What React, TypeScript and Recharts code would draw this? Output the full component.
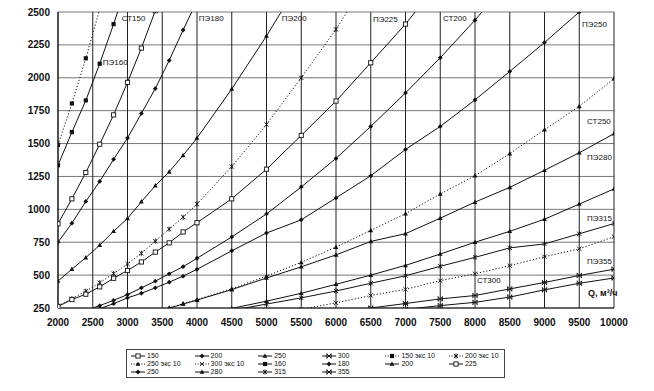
import React from 'react';
import { LineChart, Line, XAxis, YAxis, CartesianGrid, Legend, ReferenceDot } from 'recharts';

// flow points where markers are drawn, m3/h
const Q_POINTS = [2000, 2200, 2400, 2600, 2800, 3000, 3200, 3400, 3600, 3800, 4000, 4500, 5000, 5500, 6000, 6500, 7000, 7500, 8000, 8500, 9000, 9500, 10000];
const X_TICKS = [2000, 2500, 3000, 3500, 4000, 4500, 5000, 5500, 6000, 6500, 7000, 7500, 8000, 8500, 9000, 9500, 10000];
const Y_TICKS = [250, 500, 750, 1000, 1250, 1500, 1750, 2000, 2250, 2500];

// values are listed starting at index `start` of Q_POINTS
const from = (start: number, vals: number[]) =>
  Q_POINTS.map((_, i) => (i >= start && i < start + vals.length ? vals[i - start] : null));

const ST150 = from(0, [890, 1080, 1280, 1495, 1718, 1965, 2226, 2510]);
const ST200 = from(2, [232, 268, 308, 352, 403, 454, 510, 564, 628, 790, 965, 1170, 1387, 1630, 1885, 2152, 2438, 2750]);
const ST250 = from(11, [247, 302, 362, 430, 500, 574, 660, 750, 833, 925, 1040, 1155]);
const ST300 = from(16, [240, 268, 293, 333, 388, 438, 478]);
const ST150_EXC = from(0, [1490, 1805, 2148, 2520]);
const ST200_EXC = from(0, [265, 320, 378, 442, 511, 585, 666, 758, 850, 940, 1040, 1325, 1645, 2000, 2368, 2780]);
const ST250_EXC = from(7, [224, 250, 283, 314, 396, 493, 597, 713, 840, 967, 1117, 1255, 1423, 1605, 1783, 1993]);
const ST300_EXC = from(13, [240, 289, 345, 392, 458, 510, 572, 640, 700, 792]);
const PE160 = from(0, [1335, 1587, 1828, 2107, 2408, 2725]);
const PE180 = from(0, [750, 895, 1060, 1212, 1380, 1542, 1729, 1918, 2132, 2363, 2585]);
const PE200 = from(0, [455, 545, 633, 728, 833, 931, 1058, 1180, 1285, 1410, 1542, 1915, 2318, 2750]);
const PE225 = from(0, [262, 314, 355, 411, 476, 535, 600, 675, 745, 828, 898, 1080, 1305, 1562, 1823, 2114, 2408, 2740]);
const PE250 = from(3, [245, 283, 327, 362, 403, 446, 492, 544, 685, 820, 920, 1087, 1255, 1455, 1630, 1832, 2048, 2268, 2500]);
const PE280 = from(7, [226, 250, 280, 310, 390, 478, 563, 654, 756, 815, 933, 1055, 1167, 1297, 1430, 1575]);
const PE315 = from(11, [232, 280, 327, 379, 438, 495, 567, 635, 707, 737, 814, 892]);
const PE355 = from(15, [250, 284, 319, 345, 395, 444, 497, 545]);

const SERIES = [
  { key: 'st150', name: '150', values: ST150, dashed: false, marker: 'sqOpen' },
  { key: 'st200', name: '200', values: ST200, dashed: false, marker: 'diamond' },
  { key: 'st250', name: '250', values: ST250, dashed: false, marker: 'tri' },
  { key: 'st300', name: '300', values: ST300, dashed: false, marker: 'xbar' },
  { key: 'st150e', name: '150 экс 10', values: ST150_EXC, dashed: true, marker: 'sqFill' },
  { key: 'st200e', name: '200 экс 10', values: ST200_EXC, dashed: true, marker: 'star' },
  { key: 'st250e', name: '250 экс 10', values: ST250_EXC, dashed: true, marker: 'tri' },
  { key: 'st300e', name: '300 экс 10', values: ST300_EXC, dashed: true, marker: 'x' },
  { key: 'pe160', name: '160', values: PE160, dashed: false, marker: 'sqFill' },
  { key: 'pe180', name: '180', values: PE180, dashed: false, marker: 'diamond' },
  { key: 'pe200', name: '200', values: PE200, dashed: false, marker: 'tri' },
  { key: 'pe225', name: '225', values: PE225, dashed: false, marker: 'sqOpen' },
  { key: 'pe250', name: '250', values: PE250, dashed: false, marker: 'diamond' },
  { key: 'pe280', name: '280', values: PE280, dashed: false, marker: 'tri' },
  { key: 'pe315', name: '315', values: PE315, dashed: false, marker: 'star' },
  { key: 'pe355', name: '355', values: PE355, dashed: false, marker: 'xbar' },
];

// curve captions, placed in data units
const CURVE_LABELS = [
  { text: 'СТ150', q: 2917, p: 2452 },
  { text: 'ПЭ160', q: 2644, p: 2118 },
  { text: 'ПЭ180', q: 4026, p: 2456 },
  { text: 'ПЭ200', q: 5221, p: 2456 },
  { text: 'ПЭ225', q: 6531, p: 2448 },
  { text: 'СТ200', q: 7539, p: 2456 },
  { text: 'ПЭ250', q: 9540, p: 2410 },
  { text: 'СТ250', q: 9612, p: 1671 },
  { text: 'ПЭ280', q: 9612, p: 1398 },
  { text: 'ПЭ315', q: 9612, p: 935 },
  { text: 'ПЭ355', q: 9612, p: 609 },
  { text: 'СТ300', q: 8028, p: 465 },
];

const DATA = Q_POINTS.map((q, i) => {
  const row: any = { q };
  SERIES.forEach((s) => { row[s.key] = s.values[i]; });
  return row;
});

const INK = '#111';
const FONT = 'Arial, "Liberation Sans", sans-serif';

const Marker = ({ shape, cx, cy }: { shape: string; cx: number; cy: number }) => {
  const s = 2.1;
  switch (shape) {
    case 'sqOpen':
      return <rect x={cx - s} y={cy - s} width={2 * s} height={2 * s} fill="#fff" stroke={INK} strokeWidth={0.9} />;
    case 'sqFill':
      return <rect x={cx - s} y={cy - s} width={2 * s} height={2 * s} fill={INK} />;
    case 'diamond':
      return <polygon points={`${cx},${cy - 2.4} ${cx + 2.4},${cy} ${cx},${cy + 2.4} ${cx - 2.4},${cy}`} fill={INK} />;
    case 'tri':
      return <polygon points={`${cx},${cy - 2.6} ${cx + 2.4},${cy + 1.8} ${cx - 2.4},${cy + 1.8}`} fill={INK} />;
    case 'x':
      return <path d={`M${cx - s},${cy - s}L${cx + s},${cy + s}M${cx + s},${cy - s}L${cx - s},${cy + s}`} stroke={INK} strokeWidth={0.9} />;
    case 'star':
      return <path d={`M${cx - s},${cy - s}L${cx + s},${cy + s}M${cx + s},${cy - s}L${cx - s},${cy + s}M${cx},${cy - 2.6}L${cx},${cy + 2.6}`} stroke={INK} strokeWidth={0.9} />;
    case 'xbar':
      return <path d={`M${cx - s},${cy - s}L${cx + s},${cy + s}M${cx + s},${cy - s}L${cx - s},${cy + s}M${cx - s},${cy - 2.6}L${cx - s},${cy + 2.6}M${cx + s},${cy - 2.6}L${cx + s},${cy + 2.6}`} stroke={INK} strokeWidth={0.9} />;
    default:
      return null;
  }
};

const LegendBox = () => (
  <div style={{ border: '1px solid #444', background: '#fff', width: 379, height: 29, boxSizing: 'border-box', padding: '2px 0 0 4px', display: 'grid', gridTemplateColumns: 'repeat(6, 63.6px)', gridAutoRows: '8px', fontFamily: FONT, fontSize: 7, color: INK, lineHeight: '8px' }}>
    {SERIES.map((s) => (
      <div key={s.key} style={{ display: 'flex', alignItems: 'center', whiteSpace: 'nowrap' }}>
        <svg width={14} height={8} style={{ marginRight: 2, flex: 'none' }}>
          <line x1={0} x2={14} y1={4} y2={4} stroke={INK} strokeWidth={1} strokeDasharray={s.dashed ? '1 1.6' : undefined} />
          <Marker shape={s.marker} cx={7} cy={4} />
        </svg>
        <span>{s.name}</span>
      </div>
    ))}
  </div>
);

const tickStyle = { fill: INK, fontSize: 10, fontWeight: 700, fontFamily: FONT };

export default function App() {
  return (
    <div style={{ position: 'absolute', left: 0, top: 0, width: 654, height: 391, background: '#fff' }}>
      <LineChart width={654} height={391} data={DATA} margin={{ top: 12, right: 40, left: 0, bottom: 59 }}>
        <CartesianGrid vertical={false} stroke="#777" strokeWidth={1} />
        <CartesianGrid horizontal={false} stroke="#222" strokeWidth={1} />
        <XAxis type="number" dataKey="q" domain={[2000, 10000]} ticks={X_TICKS} interval={0} allowDataOverflow
          tickLine={false} axisLine={{ stroke: INK }} tick={tickStyle} tickMargin={5} height={24} />
        <YAxis type="number" domain={[250, 2500]} ticks={Y_TICKS} interval={0} allowDataOverflow width={58}
          tickLine={false} axisLine={{ stroke: INK }} tick={tickStyle} />
        {SERIES.map((s) => (
          <Line key={s.key} dataKey={s.key} name={s.name} stroke={INK} strokeWidth={1}
            strokeDasharray={s.dashed ? '1.2 2' : undefined} connectNulls={false}
            activeDot={false} isAnimationActive={false}
            dot={(p: any) => (p.cx == null || p.cy == null || p.value == null
              ? <g key={`${s.key}-${p.index}`} />
              : <g key={`${s.key}-${p.index}`}><Marker shape={s.marker} cx={p.cx} cy={p.cy} /></g>)} />
        ))}
        {CURVE_LABELS.map((l) => (
          <ReferenceDot key={l.text} x={l.q} y={l.p} r={0} fill="none" stroke="none"
            label={{ value: l.text, position: 'right', offset: 0, fontSize: 8, fill: INK, fontFamily: FONT }} />
        ))}
        <ReferenceDot x={9626} y={366} r={0} fill="none" stroke="none"
          label={{ value: 'Q, м³/ч', position: 'right', offset: 0, fontSize: 9, fontWeight: 700, fill: INK, fontFamily: FONT }} />
        <Legend layout="horizontal" verticalAlign="middle" align="center" content={<LegendBox />}
          wrapperStyle={{ left: 126, top: 349, width: 380, height: 29 }} />
      </LineChart>
    </div>
  );
}
